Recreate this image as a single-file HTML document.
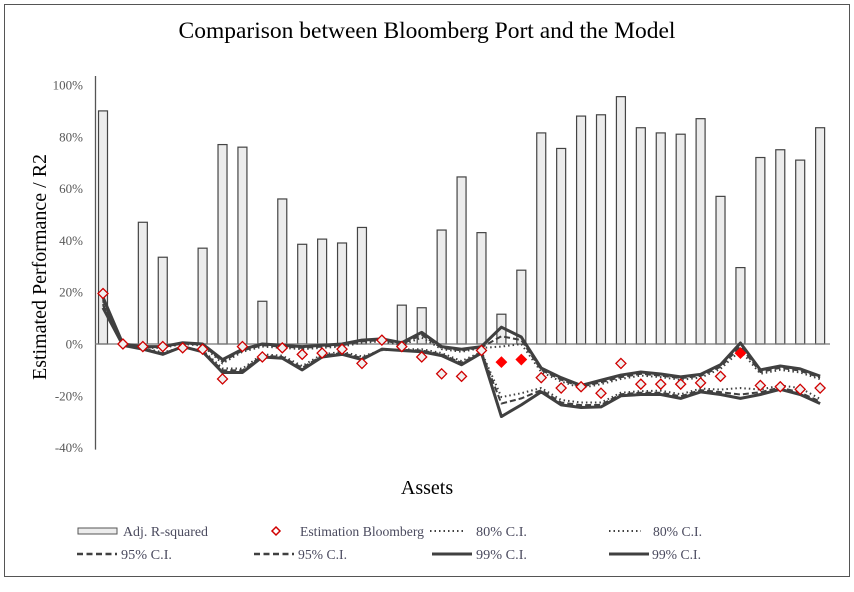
<!DOCTYPE html>
<html><head><meta charset="utf-8"><style>
body{margin:0;background:#fff;}
svg text{font-family:"Liberation Serif",serif;}
</style></head><body>
<svg id="c" width="854" height="587" xmlns="http://www.w3.org/2000/svg">
<rect x="4.5" y="4.5" width="845" height="572" fill="#fff" stroke="#555" stroke-width="1"/>
<text x="427" y="38" font-size="23.5" text-anchor="middle" fill="#000">Comparison between Bloomberg Port and the Model</text>
<text transform="translate(46,267) rotate(-90)" font-size="20" text-anchor="middle" fill="#000">Estimated Performance / R2</text>
<text x="427" y="494" font-size="20" text-anchor="middle" fill="#000">Assets</text>
<g id="plot"></g>
<g id="legend"></g>
</svg>
<script>
const categories=[];for(let i=1;i<=37;i++)categories.push('A'+i);
const r2=[90,0,47,33.5,0,37,77,76,16.5,56,38.5,40.5,39,45,0,15,14,44,64.5,43,11.5,28.5,81.5,75.5,88,88.5,95.5,83.5,81.5,81,87,57,29.5,72,75,71,83.5];
const bloomberg=[19.5,0,-1,-1,-1.5,-2,-13.5,-1,-5,-1.5,-4,-3.5,-2,-7.5,1.5,-1,-5,-11.5,-12.5,-2.5,-7,-6,-13,-17,-16.5,-19,-7.5,-15.5,-15.5,-15.5,-15,-12.5,-3.5,-16,-16.5,-17.5,-17];
const filledIdx=[20,21,32];
const up99=[18,0,-1,-1,0.5,0,-6,-2,0,-0.5,-1,-0.5,0,1.5,2,0.5,4.5,-1,-2,-1,6.5,2.7,-9.3,-13,-16,-14,-12,-10.8,-11.6,-12.7,-11.7,-8,0.4,-10,-8.5,-9.6,-12.4];
const lo99=[14,-0.5,-2,-4,-1,-3,-11,-11,-5,-5.5,-10,-5,-4,-6,-2,-2.5,-3,-4.5,-8,-3.5,-28,-23.5,-18.5,-23.5,-24.5,-24.3,-20,-19.5,-19.5,-21,-18.5,-19.5,-21,-19.5,-17.5,-19.5,-23];
const up95=[17,0,-1.2,-1.2,0.2,-0.3,-6.8,-2.5,-0.5,-1,-1.5,-1,-0.5,1,1.5,0,3.5,-1.5,-2.5,-1.3,3,1.5,-10,-13.8,-16.5,-14.8,-12.8,-11.5,-12.2,-13.2,-12.3,-8.8,-1,-10.8,-9.2,-10.3,-13];
const lo95=[15,-0.4,-1.8,-3.6,-1.2,-2.7,-10.2,-10.2,-4.5,-5,-9.2,-4.5,-3.5,-5.4,-2.2,-2.3,-2.5,-4,-7.3,-3.3,-23,-21,-17.8,-22.6,-23.6,-23.5,-19.4,-18.8,-18.8,-20.2,-17.8,-18.6,-19.5,-18.6,-16.8,-18.8,-22.2];
const up80=[16.5,0,-1.5,-1.5,0,-0.6,-7.5,-3,-1,-1.5,-2,-1.5,-1,0.5,1,-0.5,2.5,-2,-3,-1.5,-1,0,-10.8,-14.5,-17,-15.5,-13.5,-12.2,-12.8,-13.8,-13,-9.6,-2.5,-11.5,-10,-11,-13.6];
const lo80=[15.5,-0.3,-1.6,-3.2,-1.4,-2.4,-9.4,-9.5,-4,-4.5,-8.5,-4,-3,-4.8,-2.4,-2.1,-2,-3.5,-6.6,-3,-20.5,-19,-17,-21.6,-22.6,-22.6,-18.8,-18.2,-18,-19.4,-17.2,-17.6,-17,-17.6,-16,-17,-21.2];
const yTicks=[100,80,60,40,20,0,-20,-40];

const NS='http://www.w3.org/2000/svg';
const plot=document.getElementById('plot');
const x0=103,dx=19.92;
function X(i){return x0+i*dx;}
function Y(v){return 344-v*2.59;}
function mk(tag,attrs,parent){const e=document.createElementNS(NS,tag);for(const k in attrs)e.setAttribute(k,attrs[k]);(parent||plot).appendChild(e);return e;}

yTicks.forEach(t=>{
  const e=mk('text',{x:83,y:Y(t)+4.5,'font-size':13,'text-anchor':'end',fill:'#595959'});
  
  
  e.textContent=t+'%';
});
const ax=mk('line',{x1:95.5,y1:76,x2:95.5,y2:Y(-40)+2,stroke:'#555','stroke-width':1.3});


r2.forEach((v,i)=>{
  if(v<=0)return;
  const b=mk('rect',{x:X(i)-4.5,y:Y(v),width:9,height:Y(0)-Y(v),fill:'#ececec',stroke:'#444','stroke-width':1.2});
  
  
});
const zl=mk('line',{x1:95,y1:Y(0),x2:830,y2:Y(0),stroke:'#777','stroke-width':1.3});


function line(arr,dash,w,name){
  const p=mk('polyline',{points:arr.map((v,i)=>X(i)+','+Y(v)).join(' '),fill:'none',stroke:'#404040','stroke-width':w,'stroke-dasharray':dash,'stroke-linejoin':'round'});
  
  
}
line(up80,'1.5 3',2,'ci80-upper');line(lo80,'1.5 3',2,'ci80-lower');
line(up95,'6 3',2,'ci95-upper');line(lo95,'6 3',2,'ci95-lower');
line(up99,'',3,'ci99-upper');line(lo99,'',3,'ci99-lower');
bloomberg.forEach((v,i)=>{
  const f=filledIdx.includes(i);
  const cx=X(i),cy=Y(v),s=5;
  const d=mk('polygon',{points:`${cx},${cy-s} ${cx+s},${cy} ${cx},${cy+s} ${cx-s},${cy}`,fill:f?'#ff0000':'#f0f0f0',stroke:f?'#ff0000':'#d00000','stroke-width':1.3});
  
  
});
const lg=document.getElementById('legend');
function ltext(x,y,t,len){const a={x:x,y:y+5,'font-size':14,fill:'#4a4a5e'};if(len){a.textLength=len;a.lengthAdjust='spacingAndGlyphs';}const e=mk('text',a,lg);e.textContent=t;}
function lline(x1,x2,y,dash,w){const e=mk('line',{x1:x1,y1:y,x2:x2,y2:y,stroke:'#404040','stroke-width':w,'stroke-dasharray':dash},lg);}
const r1=531,r2y=554;
const sw=mk('rect',{x:78,y:r1-3,width:39,height:6,fill:'#ececec',stroke:'#555'},lg);


ltext(123,r1,'Adj. R-squared',85);
const ld=mk('polygon',{points:`276,${r1-4} 280,${r1} 276,${r1+4} 272,${r1}`,fill:'#fff',stroke:'#d00000','stroke-width':1.5},lg);


ltext(300,r1,'Estimation Bloomberg',124);
lline(430,464,r1,'1.5 3',2);ltext(476,r1,'80% C.I.',51);
lline(609,641,r1,'1.5 3',2);ltext(653,r1,'80% C.I.',49);
lline(77,117,r2y,'6 3.5',2.5);ltext(121,r2y,'95% C.I.',51);
lline(254,294,r2y,'6 3.5',2.5);ltext(298,r2y,'95% C.I.',49);
lline(432,472,r2y,'',3);ltext(476,r2y,'99% C.I.',51);
lline(609,649,r2y,'',3);ltext(652,r2y,'99% C.I.',49);
</script>
</body></html>
